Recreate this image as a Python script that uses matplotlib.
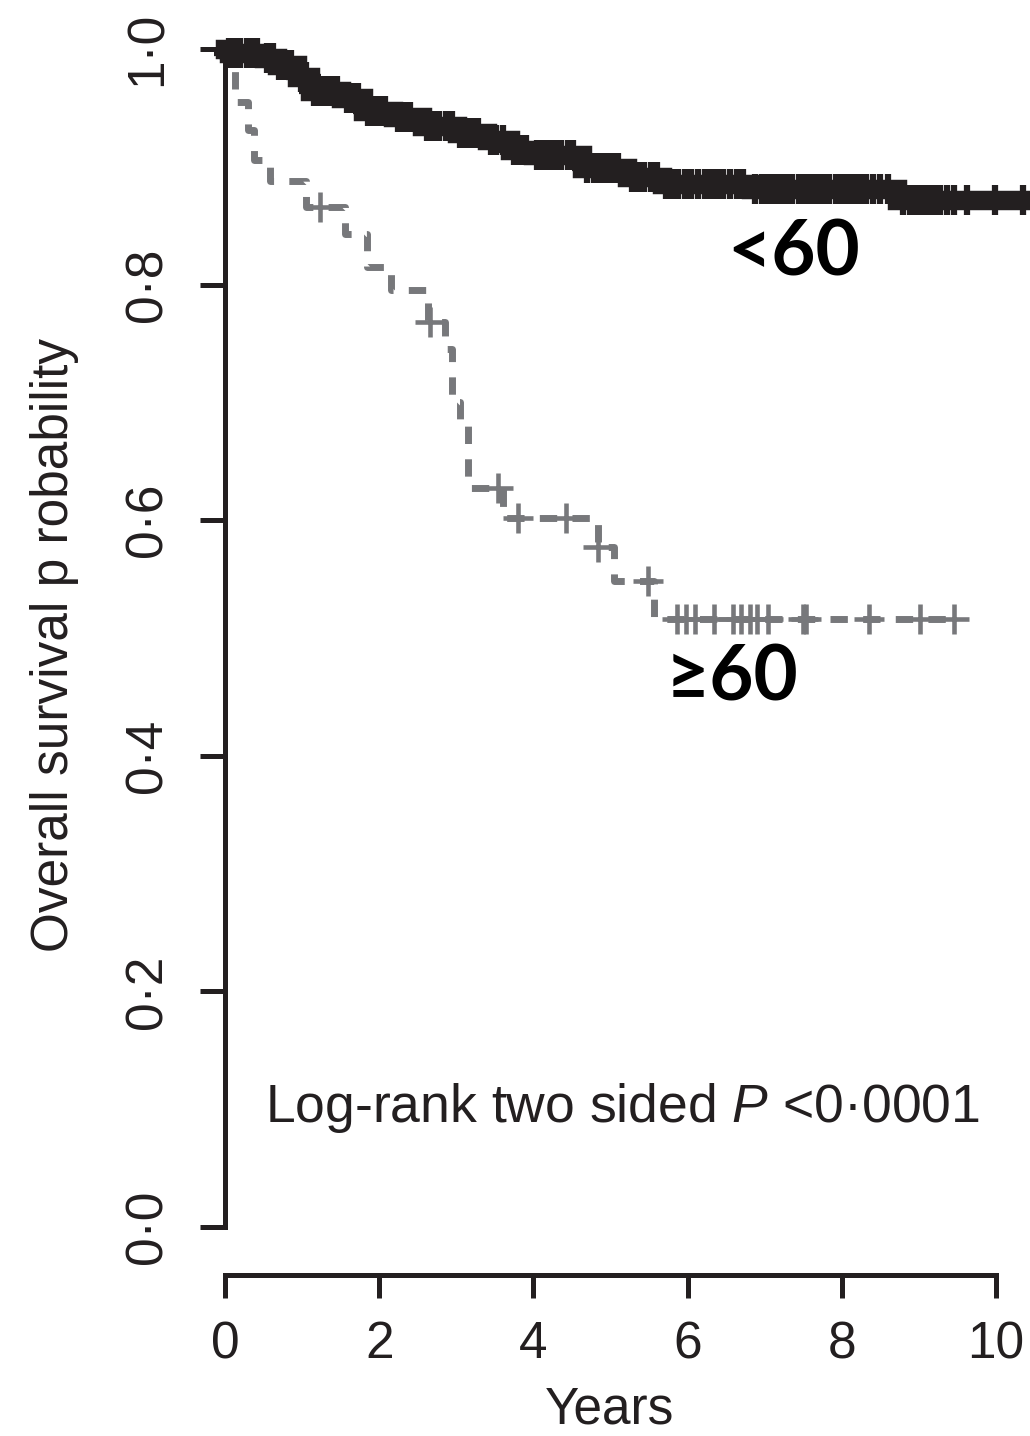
import numpy as np
import matplotlib
matplotlib.use('Agg')
import matplotlib.pyplot as plt

plt.rcParams['font.family'] = ['Liberation Sans', 'DejaVu Sans']
plt.rcParams['mathtext.fontset'] = 'custom'
plt.rcParams['mathtext.rm'] = 'Liberation Sans'
plt.rcParams['mathtext.it'] = 'Liberation Sans:italic'

# Kaplan-Meier step data (years, survival probability)
times_lt60 = [0.0, 0.05, 0.50, 0.67, 0.93, 1.10, 1.50, 1.79, 2.18, 2.55, 3.01, 3.40,
              3.70, 4.00, 4.63, 5.21, 5.67, 6.82, 8.72]
surv_lt60 = [1.0, 0.997, 0.992, 0.986, 0.976, 0.964, 0.958, 0.947, 0.942, 0.935, 0.929,
             0.923, 0.914, 0.910, 0.899, 0.891, 0.885, 0.881, 0.872]
end_lt60 = 10.35

times_ge60 = [0.0, 0.13, 0.30, 0.38, 0.58, 1.05, 1.55, 1.84, 2.15, 2.63, 2.85, 2.95,
              3.05, 3.15, 3.60, 4.84, 5.05, 5.56]
surv_ge60 = [1.0, 0.955, 0.931, 0.906, 0.888, 0.866, 0.843, 0.815, 0.795, 0.768, 0.745,
             0.700, 0.680, 0.627, 0.602, 0.577, 0.548, 0.516]
end_ge60 = 9.46

# censoring times ("+" marks)
cens_lt60 = [0.05, 0.12, 0.20, 0.28, 0.35, 0.42, 0.55, 0.62, 0.70, 0.78, 0.85, 0.98,
             1.05, 1.15, 1.22, 1.30, 1.38, 1.45, 1.58, 1.65, 1.72, 1.85, 1.92, 2.00,
             2.08, 2.25, 2.32, 2.40, 2.62, 2.70, 2.78, 2.86, 2.95, 3.05, 3.12, 3.20,
             3.28, 3.45, 3.52, 3.60, 3.75, 3.82, 3.90, 4.05, 4.12, 4.20, 4.28, 4.36,
             4.45, 4.52, 4.70, 4.78, 4.86, 4.94, 5.02, 5.10, 5.28, 5.36, 5.44, 5.52,
             5.60, 5.72, 5.80, 5.88, 5.96, 6.05, 6.14, 6.22, 6.30, 6.38, 6.46, 6.55,
             6.64, 6.72, 6.88, 6.96, 7.04, 7.12, 7.20, 7.28, 7.36, 7.44, 7.52, 7.60,
             7.68, 7.76, 7.84, 7.92, 8.00, 8.08, 8.16, 8.24, 8.32, 8.40, 8.50, 8.60,
             8.80, 8.88, 8.96, 9.04, 9.12, 9.20, 9.28, 9.36, 9.45, 9.63, 9.99, 10.35]
cens_ge60 = [1.23, 2.66, 3.54, 3.80, 4.42, 4.84, 5.49, 5.86, 5.98, 6.10, 6.34, 6.59,
             6.69, 6.81, 6.90, 7.04, 7.50, 7.54, 8.35, 9.01, 9.46]

x_ticks = [0, 2, 4, 6, 8, 10]
y_ticks = [0.0, 0.2, 0.4, 0.6, 0.8, 1.0]
y_ticklabels = ['0·0', '0·2', '0·4', '0·6', '0·8', '1·0']

dark = '#231f20'
grey = '#77787b'


def step_at(times, surv, t):
    idx = np.searchsorted(times, t, side='right') - 1
    return np.asarray(surv)[idx]


fig = plt.figure(figsize=(10.3, 14.36), dpi=100)
ax = fig.add_axes([225 / 1030, (1436 - 1227) / 1436, 805 / 1030, 1178 / 1436])
ax.set_xlim(0, 805 / 77.1)
ax.set_ylim(0, 1)

# >=60 group (grey, broken line)
ax.plot(times_ge60 + [end_ge60], surv_ge60 + [surv_ge60[-1]], drawstyle='steps-post',
        color=grey, lw=5, linestyle=(0, (2.5, 2.2)), clip_on=False, zorder=2)
ax.plot(cens_ge60, step_at(times_ge60, surv_ge60, cens_ge60), linestyle='none',
        marker='+', ms=21, mew=3.3, color=grey, clip_on=False, zorder=2)

# <60 group (black, thick band)
ax.plot(times_lt60 + [end_lt60], surv_lt60 + [surv_lt60[-1]], drawstyle='steps-post',
        color=dark, lw=14, solid_joinstyle='miter', clip_on=False, zorder=3)
ax.plot(cens_lt60, step_at(times_lt60, surv_lt60, cens_lt60), linestyle='none',
        marker='+', ms=22, mew=4.5, color=dark, clip_on=False, zorder=3)

# group labels and test result
label_font = ['Lato', 'Liberation Sans', 'DejaVu Sans']
ax.text(6.52, 0.808, '<60', fontsize=55, fontweight='bold', color='black',
        family=label_font, ha='left', va='baseline')
ax.text(5.72, 0.447, '≥60', fontsize=55, fontweight='bold', color='black',
        family=label_font, ha='left', va='baseline')
ax.text(0.52, 0.089, 'Log-rank two sided $P$ <0·0001', fontsize=38.5, color=dark,
        ha='left', va='baseline')

# R-style detached axes
for s in ['top', 'right']:
    ax.spines[s].set_visible(False)
ax.spines['left'].set_bounds(0, 1)
ax.spines['left'].set_linewidth(3.6)
ax.spines['left'].set_color(dark)
ax.spines['bottom'].set_position(('outward', 34.5))
ax.spines['bottom'].set_bounds(0, 10)
ax.spines['bottom'].set_linewidth(3.6)
ax.spines['bottom'].set_color(dark)

ax.set_xticks(x_ticks)
ax.set_xticklabels([str(v) for v in x_ticks])
ax.set_yticks(y_ticks)
ax.set_yticklabels(y_ticklabels, rotation=90, va='center')
ax.tick_params(axis='x', length=16.5, width=3.6, color=dark, labelsize=37,
               labelcolor=dark, pad=16)
ax.tick_params(axis='y', length=18, width=3.6, color=dark, labelsize=37,
               labelcolor=dark, pad=20)

ax.set_xlabel('Years', fontsize=37, color=dark, va='center')
ax.xaxis.set_label_coords((610 - 225) / 805, (1227 - 1410) / 1178)
ax.set_ylabel('Overall survival p robability', fontsize=37, color=dark, va='center')
ax.yaxis.set_label_coords((55 - 225) / 805, (1227 - 645) / 1178)

fig.savefig('out.png', dpi=100)
